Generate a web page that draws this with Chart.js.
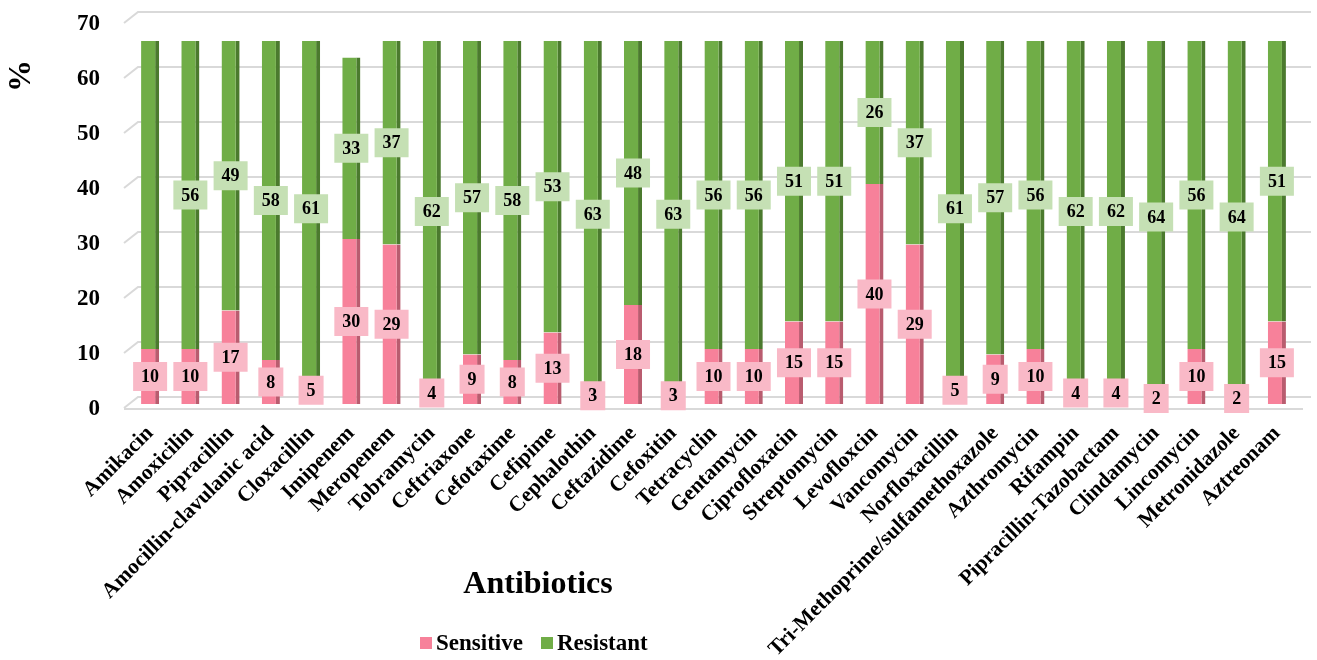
<!DOCTYPE html>
<html>
<head>
<meta charset="utf-8">
<script src="https://cdn.jsdelivr.net/npm/chart.js@4.4.1/dist/chart.umd.min.js"></script>
<style>
  body { margin: 0; background: #fff; }
  #wrap { width: 1317px; height: 660px; }
</style>
</head>
<body>
<div id="wrap"><canvas id="chart" width="1317" height="660"></canvas></div>
<script>
// datos
const categories = [
  "Amikacin", "Amoxicilin", "Pipracillin", "Amocillin-clavulanic acid", "Cloxacillin",
  "Imipenem", "Meropenem", "Tobramycin", "Ceftriaxone", "Cefotaxime", "Cefipime",
  "Cephalothin", "Ceftazidime", "Cefoxitin", "Tetracyclin", "Gentamycin",
  "Ciprofloxacin", "Streptomycin", "Levofloxcin", "Vancomycin", "Norfloxacillin",
  "Tri-Methoprime/sulfamethoxazole", "Azthromycin", "Rifampin", "Pipracillin-Tazobactam",
  "Clindamycin", "Lincomycin", "Metronidazole", "Aztreonam"
];
const sensitive = [10, 10, 17, 8, 5, 30, 29, 4, 9, 8, 13, 3, 18, 3, 10, 10, 15, 15, 40, 29, 5, 9, 10, 4, 4, 2, 10, 2, 15];
const resistant = [56, 56, 49, 58, 61, 33, 37, 62, 57, 58, 53, 63, 48, 63, 56, 56, 51, 51, 26, 37, 61, 57, 56, 62, 62, 64, 56, 64, 51];
const yTicks = [0, 10, 20, 30, 40, 50, 60, 70];

const FONT = "'Liberation Serif', 'Times New Roman', serif";
const PINK = "#f7819a";
const GREEN = "#70ad47";

// lineas de fondo con efecto 3D
const grid3d = {
  id: "grid3d",
  beforeDatasetsDraw(chart) {
    const { ctx, chartArea } = chart;
    const y = chart.scales.y;
    ctx.save();
    ctx.strokeStyle = "#d9d9d9";
    ctx.lineWidth = 2;
    yTicks.forEach((v) => {
      const py = y.getPixelForValue(v) + 4;
      ctx.beginPath();
      ctx.moveTo(chartArea.left - 6, py);
      ctx.lineTo(chartArea.left + 8, py - 11);
      ctx.lineTo(chartArea.right + 14, py - 11);
      ctx.stroke();
      if (v === 0) {
        ctx.beginPath();
        ctx.moveTo(chartArea.left - 6, py + 1);
        ctx.lineTo(chartArea.right + 6, py + 1);
        ctx.stroke();
      }
    });
    ctx.restore();
  },
};

// etiquetas de valores (centradas en cada segmento)
const valueLabels = {
  id: "valueLabels",
  afterDatasetsDraw(chart) {
    const { ctx } = chart;
    ctx.save();
    ctx.font = "bold 18px " + FONT;
    ctx.textAlign = "center";
    ctx.textBaseline = "middle";
    chart.data.datasets.forEach((ds, i) => {
      const meta = chart.getDatasetMeta(i);
      meta.data.forEach((el, j) => {
        if (i === 1 && j === 0) return; // oculta en el original
        const value = ds.data[j];
        const cy = (el.y + el.base) / 2;
        const text = String(value);
        const w = ctx.measureText(text).width + 16;
        const h = 29;
        ctx.fillStyle = i === 0 ? "#f9b9c7" : "#c5e0b4";
        ctx.fillRect(el.x - w / 2, cy - h / 2, w, h);
        ctx.fillStyle = "#000";
        ctx.fillText(text, el.x, cy + 1);
      });
    });
    ctx.restore();
  },
};

// titulos y leyenda
const extras = {
  id: "extras",
  afterDraw(chart) {
    const { ctx } = chart;
    ctx.save();
    ctx.fillStyle = "#000";
    ctx.textBaseline = "middle";

    ctx.save();
    ctx.translate(22, 76);
    ctx.rotate(-Math.PI / 2);
    ctx.font = "bold 32px " + FONT;
    ctx.textAlign = "center";
    ctx.fillText("%", 0, 0);
    ctx.restore();

    ctx.font = "bold 32px " + FONT;
    ctx.textAlign = "center";
    ctx.fillText("Antibiotics", 538, 585);

    ctx.font = "bold 23px " + FONT;
    ctx.textAlign = "left";
    ctx.fillStyle = PINK;
    ctx.fillRect(420, 637, 12, 12);
    ctx.fillStyle = "#000";
    ctx.fillText("Sensitive", 436, 644);
    ctx.fillStyle = GREEN;
    ctx.fillRect(541, 637, 12, 12);
    ctx.fillStyle = "#000";
    ctx.fillText("Resistant", 557, 644);
    ctx.restore();
  },
};

new Chart(document.getElementById("chart"), {
  type: "bar",
  data: {
    labels: categories,
    datasets: [
      {
        label: "Sensitive",
        data: sensitive,
        backgroundColor: PINK,
        borderColor: "#b95c6f",
        borderWidth: { top: 0, right: 4, bottom: 0, left: 0 },
        borderSkipped: false,
      },
      {
        label: "Resistant",
        data: resistant,
        backgroundColor: GREEN,
        borderColor: "#4b7a2e",
        borderWidth: { top: 0, right: 4, bottom: 0, left: 0 },
        borderSkipped: false,
      },
    ],
  },
  options: {
    responsive: false,
    devicePixelRatio: 1,
    animation: false,
    layout: { padding: { top: 19, right: 20, left: 0, bottom: 0 } },
    datasets: { bar: { barPercentage: 0.45, categoryPercentage: 1 } },
    scales: {
      x: {
        stacked: true,
        grid: { display: false },
        border: { display: false },
        afterFit: (scale) => { scale.height = 256; },
        ticks: {
          autoSkip: false,
          maxRotation: 45,
          minRotation: 45,
          padding: 9,
          color: "#000",
          font: { family: FONT, size: 21.5, weight: "bold" },
        },
      },
      y: {
        stacked: true,
        min: 0,
        max: 70,
        grid: { display: false },
        border: { display: false },
        afterFit: (scale) => {
          scale.width = 130;
          scale.paddingTop = 0;
          scale.paddingBottom = 0;
        },
        ticks: {
          stepSize: 10,
          padding: 22,
          labelOffset: 5,
          color: "#000",
          font: { family: FONT, size: 23, weight: "bold" },
        },
      },
    },
    plugins: {
      legend: { display: false },
      tooltip: { enabled: false },
    },
  },
  plugins: [grid3d, valueLabels, extras],
});
</script>
</body>
</html>
